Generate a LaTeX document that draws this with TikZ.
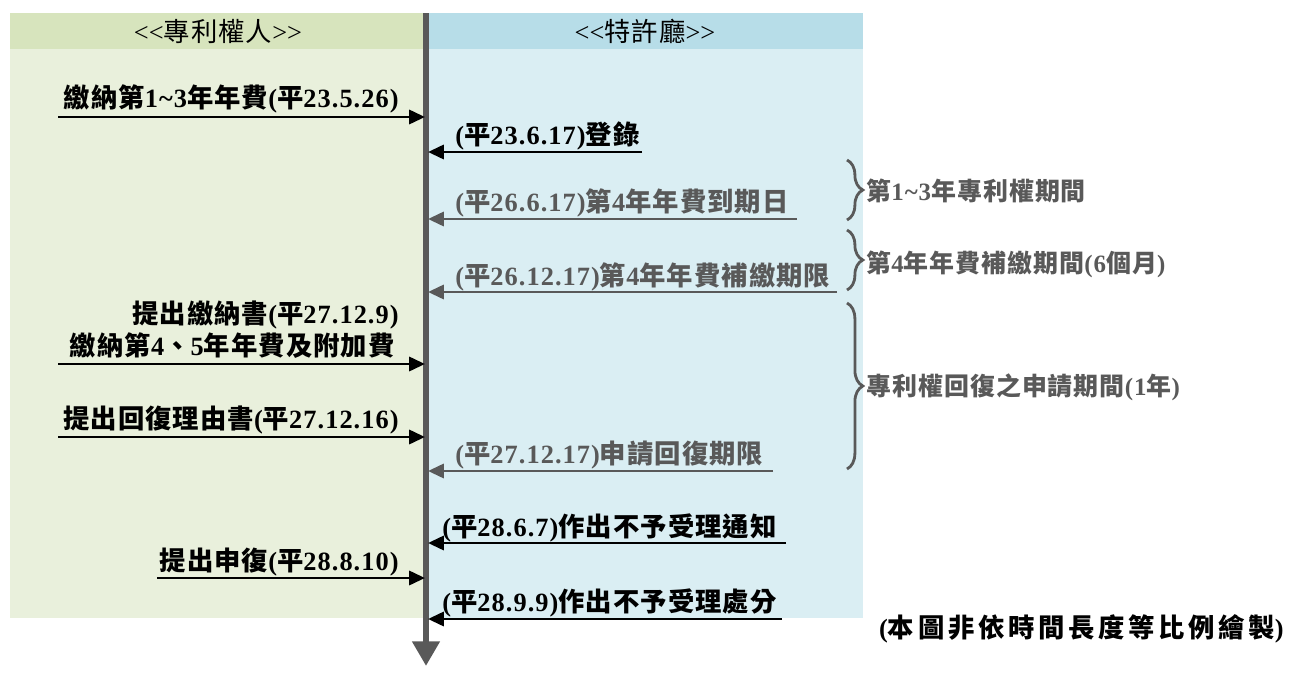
\documentclass[tikz,border=0pt]{standalone}
\usepackage{fontspec}
\setmainfont{Liberation Serif}[LetterSpace=4]
\newfontfamily\cjkfont{Noto Sans CJK TC}[LetterSpace=4]
\newfontfamily\cjkwide{Noto Sans CJK TC}[LetterSpace=14]
\newcommand\zh[1]{{\cjkfont #1}}
\usepackage{tikz}
\usetikzlibrary{arrows.meta}
\usetikzlibrary{positioning}
\usetikzlibrary{decorations.pathreplacing}
\definecolor{hdgreen}{HTML}{D7E4BD}
\definecolor{bodygreen}{HTML}{E9F0DC}
\definecolor{hdblue}{HTML}{B7DDE8}
\definecolor{bodyblue}{HTML}{DAEEF3}
\definecolor{txtgray}{HTML}{595959}
\tikzset{lbl/.style={font=\bfseries\fontsize{15}{17}\selectfont,inner sep=0pt}}
\tikzset{grylbl/.style={lbl,text=txtgray}}
\tikzset{prdlbl/.style={grylbl,font=\bfseries\fontsize{14.2}{16}\selectfont}}
\tikzset{hdlbl/.style={font=\fontsize{15}{17}\selectfont,inner sep=0pt}}
\tikzset{msg/.style={line width=1.7pt,-{Triangle[length=9pt,width=8pt]}}}
\tikzset{grymsg/.style={msg,draw=txtgray,color=txtgray}}
\tikzset{period/.style={draw=txtgray,line width=1.6pt,decorate,decoration={brace,amplitude=9pt}}}

\begin{document}
\begin{tikzpicture}[x=0.02cm,y=-0.02cm]
\useasboundingbox (0,0) rectangle (1296,673);
% lanes
\fill[bodygreen] (10,13) rectangle (425,618);
\fill[hdgreen] (10,13) rectangle (425,49);
\fill[bodyblue] (427,13) rectangle (863,618);
\fill[hdblue] (427,13) rectangle (863,49);
\node[hdlbl] (owner) at (218,31) {<\kern0pt<\zh{專利權人}>\kern0pt>};
\node[hdlbl] (office) at (645,31) {<\kern0pt<\zh{特許廳}>\kern0pt>};

% time line
\coordinate (top) at (426,13);
\coordinate (bot) at (426,666);
\coordinate (lineL) at (425,13);
\coordinate (lineR) at (428,13);
\draw[txtgray,line width=3.6pt,-{Triangle[length=14pt,width=15pt]}] (top) -- (bot);

% patentee side
\coordinate (s1) at (58,117);
\coordinate (s2) at (58,364);
\coordinate (s3) at (58,437);
\coordinate (s4) at (157,578);
\draw[msg] (s1) -- (s1 -| lineL);
\draw[msg] (s2) -- (s2 -| lineL);
\draw[msg] (s3) -- (s3 -| lineL);
\draw[msg] (s4) -- (s4 -| lineL);
\node[lbl,anchor=base east] (pay1) at (399,107) {\zh{繳納第}1\textasciitilde3\zh{年年費}(\zh{平}23.5.26)};
\node[lbl,anchor=base east] (form) at (399,323) {\zh{提出繳納書}(\zh{平}27.12.9)};
\node[lbl,anchor=base east] (pay4) at (395,355) {\zh{繳納第}4\zh{、}5\zh{年年費及附加費}};
\node[lbl,anchor=base east] (reason) at (399,428) {\zh{提出回復理由書}(\zh{平}27.12.16)};
\node[lbl,anchor=base east] (appeal) at (399,570) {\zh{提出申復}(\zh{平}28.8.10)};

% office side
\coordinate (r1) at (642,152);
\coordinate (r2) at (797,219);
\coordinate (r3) at (837,292);
\coordinate (r4) at (773,471);
\coordinate (r5) at (786,543);
\coordinate (r6) at (782,619);
\draw[msg] (r1) -- (r1 -| lineR);
\draw[grymsg] (r2) -- (r2 -| lineR);
\draw[grymsg] (r3) -- (r3 -| lineR);
\draw[grymsg] (r4) -- (r4 -| lineR);
\draw[msg] (r5) -- (r5 -| lineR);
\draw[msg] (r6) -- (r6 -| lineR);
\node[lbl,anchor=base west] (reg) at (455,144) {(\zh{平}23.6.17)\zh{登錄}};
\node[grylbl,anchor=base west] (due) at (455,211) {(\zh{平}26.6.17)\zh{第}4\zh{年年費到期日}};
\node[grylbl,anchor=base west] (late) at (455,285) {(\zh{平}26.12.17)\zh{第}4\zh{年年費補繳期限}};
\node[grylbl,anchor=base west] (restore) at (455,463) {(\zh{平}27.12.17)\zh{申請回復期限}};
\node[lbl,anchor=base west] (notice) at (442,536) {(\zh{平}28.6.7)\zh{作出不予受理通知}};
\node[lbl,anchor=base west] (reject) at (442,611) {(\zh{平}28.9.9)\zh{作出不予受理處分}};

% periods
\coordinate (b1t) at (847,160);
\coordinate (b1b) at (847,220);
\coordinate (b2t) at (847,230);
\coordinate (b2b) at (847,290);
\coordinate (b3t) at (847,303);
\coordinate (b3b) at (847,469);
\draw[period] (b1t) -- (b1b);
\draw[period] (b2t) -- (b2b);
\draw[period] (b3t) -- (b3b);
\node[prdlbl,anchor=base west] (p1) at (866,200) {\zh{第}1\textasciitilde3\zh{年專利權期間}};
\node[prdlbl,anchor=base west] (p2) at (866,272) {\zh{第}4\zh{年年費補繳期間}(6\zh{個月})};
\node[prdlbl,anchor=base west] (p3) at (866,395) {\zh{專利權回復之申請期間}(1\zh{年})};

\node[lbl,anchor=base east] (note) at (1284,637) {({\cjkwide 本圖非依時間長度等比例繪製})};
\end{tikzpicture}
\end{document}
